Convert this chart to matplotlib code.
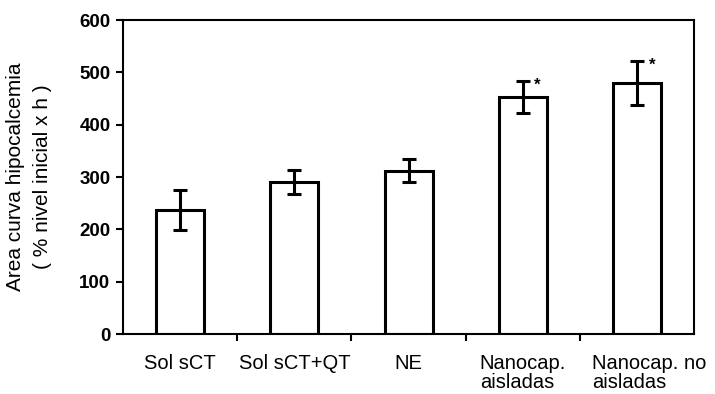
import numpy as np
import matplotlib.pyplot as plt
from matplotlib.transforms import ScaledTranslation

# Data
categories = ['Sol sCT', 'Sol sCT+QT', 'NE', 'Nanocap.\naisladas', 'Nanocap. no\naisladas']
values = [237, 291, 312, 453, 480]
errors = [39, 23, 22, 30, 42]
significant = [False, False, False, True, True]

plt.rcParams['font.family'] = ['Liberation Sans', 'DejaVu Sans']

fig = plt.figure(figsize=(7.15, 3.94), dpi=100)
ax = fig.add_axes([0.172, 0.152, 0.799, 0.797])

x = np.arange(len(categories))
ax.bar(x, values, width=0.42, color='white', edgecolor='black', linewidth=2.2,
       yerr=errors, error_kw=dict(ecolor='black', elinewidth=2.2, capsize=5, capthick=2.2))

# significance marks
for xi, v, e, s in zip(x, values, errors, significant):
    if s:
        ax.text(xi + 0.1, v + e - 8, '*', ha='left', va='center', fontsize=12, fontweight='bold')

ax.set_xlim(-0.5, len(categories) - 0.5)
ax.set_ylim(0, 600)
ax.set_yticks(range(0, 601, 100))
ax.set_xticks(x)
ax.set_xticklabels(categories, fontsize=14.5, multialignment='left', linespacing=1.0)
ax.set_xticks(np.arange(0.5, len(categories) - 1, 1), minor=True)
ax.tick_params(axis='x', which='major', length=0, pad=14)
ax.tick_params(axis='x', which='minor', length=5, width=1.5, direction='out')
ax.tick_params(axis='y', length=5, width=1.5, direction='out', labelsize=13.5, pad=4)
for lab in ax.get_yticklabels():
    lab.set_fontweight('bold')
# last label sits a little right of its category in the original
last = ax.get_xticklabels()[-1]
last.set_transform(last.get_transform() + ScaledTranslation(0.12, 0, fig.dpi_scale_trans))

for sp in ax.spines.values():
    sp.set_linewidth(1.5)

ax.set_ylabel('Area curva hipocalcemia\n( % nivel inicial x h )', fontsize=15, linespacing=1.5)
ax.yaxis.set_label_coords(-0.125, 0.5)

fig.savefig('out.png', dpi=100)
